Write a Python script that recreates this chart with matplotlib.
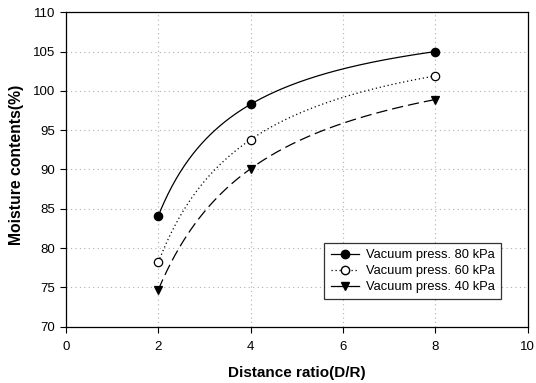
import numpy as np
import matplotlib
matplotlib.use("Agg")
import matplotlib.pyplot as plt
from matplotlib.lines import Line2D

plt.rcParams['font.family'] = ['Liberation Sans', 'DejaVu Sans']

ratio = [2, 4, 8]
press_80 = [84.1, 98.3, 105.0]
press_60 = [78.2, 93.8, 101.9]
press_40 = [74.7, 90.1, 98.9]
labels = ['Vacuum press. 80 kPa', 'Vacuum press. 60 kPa', 'Vacuum press. 40 kPa']


def smooth(xs, ys):
    # exact fit y = a + b/x + c/x^2 through the three points
    xs = np.array(xs, dtype=float)
    A = np.column_stack([np.ones_like(xs), 1 / xs, 1 / xs ** 2])
    coef = np.linalg.solve(A, np.array(ys, dtype=float))
    xx = np.linspace(xs.min(), xs.max(), 200)
    return xx, coef[0] + coef[1] / xx + coef[2] / xx ** 2


fig = plt.figure(figsize=(5.36, 3.83), dpi=100)
ax = fig.add_axes([0.1231, 0.147, 0.8614, 0.821])

styles = [
    (press_80, '-', 'o', 'black'),
    (press_60, (0, (1, 2.2)), 'o', 'white'),
    (press_40, (0, (9, 4)), 'v', 'black'),
]
for ys, ls, mk, fc in styles:
    xx, yy = smooth(ratio, ys)
    ax.plot(xx, yy, color='black', linestyle=ls, linewidth=0.9)
    ax.plot(ratio, ys, linestyle='none', marker=mk, markersize=6,
            markerfacecolor=fc, markeredgecolor='black', markeredgewidth=0.9)

ax.set_xlim(0, 10)
ax.set_ylim(70, 110)
ax.set_xticks(np.arange(0, 11, 2))
ax.set_yticks(np.arange(70, 111, 5))
ax.grid(True, color='#b0b0b0', linestyle=(0, (1, 3)), linewidth=0.8)
ax.set_axisbelow(True)
ax.tick_params(direction='out', length=4, labelsize=9.5, color='black')
ax.tick_params(axis='x', pad=6)
ax.tick_params(axis='y', pad=4)
for s in ax.spines.values():
    s.set_linewidth(0.9)

ax.set_xlabel('Distance ratio(D/R)', fontsize=11, fontweight='bold', labelpad=10)
ax.set_ylabel('Moisture contents(%)', fontsize=11.3, fontweight='bold')
ax.yaxis.set_label_coords(-0.09, 0.515)

handles = [
    Line2D([], [], color='black', linestyle='-', marker='o', markersize=6,
           markerfacecolor='black', linewidth=0.9),
    Line2D([], [], color='black', linestyle=(0, (1, 2.2)), marker='o', markersize=6,
           markerfacecolor='white', linewidth=0.9),
    Line2D([], [], color='black', linestyle='-', marker='v', markersize=6,
           markerfacecolor='black', linewidth=0.9),
]
leg = ax.legend(handles, labels, loc='lower right', bbox_to_anchor=(0.956, 0.066),
                fontsize=9.3, frameon=True, fancybox=False, edgecolor='black',
                handlelength=2.2, borderpad=0.5, labelspacing=0.3, handletextpad=0.5)
leg.get_frame().set_linewidth(0.9)

fig.savefig('out.png', dpi=100)
